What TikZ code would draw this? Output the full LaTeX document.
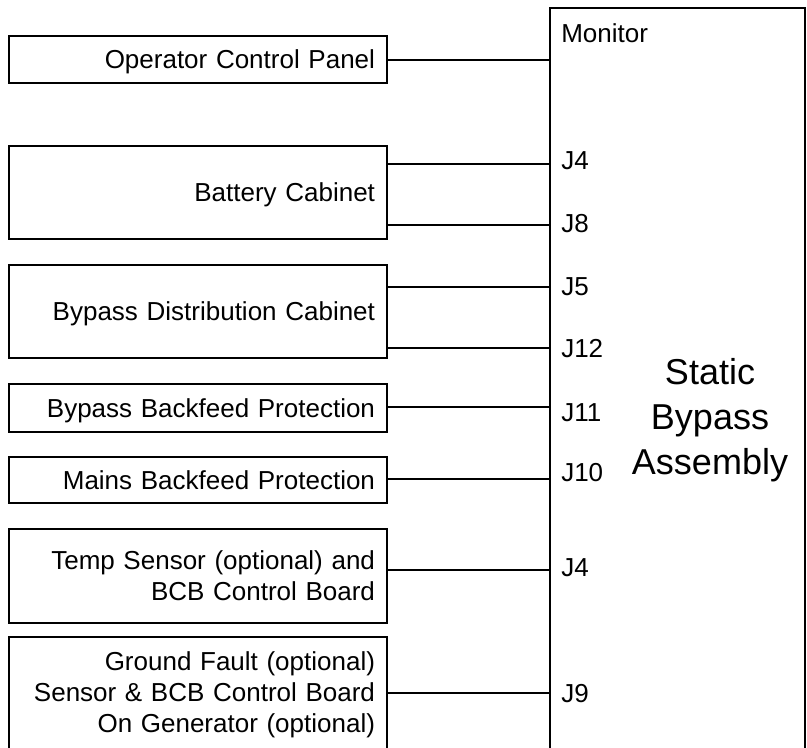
\documentclass[tikz,border=0pt]{standalone}
\usepackage{fontspec}
\setmainfont{Liberation Sans}
\begin{document}
\begin{tikzpicture}[x=0.75pt,y=-0.75pt,
  box/.style={draw, line width=2.2pt, minimum width=283.5pt, text width=265.5pt,
    inner xsep=9pt, inner ysep=0pt, align=right,
    font=\fontsize{19.5}{23.25}\selectfont},
  flat/.style={text depth=0pt},
  bigbox/.style={draw, line width=2.2pt, minimum width=191.25pt, minimum height=594pt, inner sep=0pt},
  lbl/.style={anchor=west, inner sep=0pt, font=\fontsize{19.5}{23.25}\selectfont},
  bigtext/.style={align=center, inner sep=0pt, font=\fontsize{27}{33.75}\selectfont},
  wire/.style={line width=2.2pt}]
\useasboundingbox (0,0) rectangle (807,748);
\clip (0,0) rectangle (807,748);
% big box
\node[bigbox] (sba) at (677.5,404) {};
\node[bigtext] (sbat) at (710,420) {Static\\Bypass\\Assembly};
\node[lbl] (mon) at (561,33) {Monitor};
% left boxes
\node[box, flat, minimum height=35.25pt] (ocp) at (198,59.5) {Operator Control Panel};
\node[box, flat, minimum height=69.75pt] (bat) at (198,192.5) {Battery Cabinet};
\node[box, flat, minimum height=69.75pt] (bdc) at (198,311.5) {Bypass Distribution Cabinet};
\node[box, flat, minimum height=36pt] (bbp) at (198,408) {Bypass Backfeed Protection};
\node[box, minimum height=34.5pt] (mbp) at (198,480) {Mains Backfeed Protection};
\node[box, minimum height=70.5pt] (tmp) at (198,576) {Temp Sensor (optional) and\\BCB Control Board};
\node[box, minimum height=86.25pt] (gf) at (198,694.5) {Ground Fault (optional)\\Sensor \& BCB Control Board\\On Generator (optional)};
% wire levels
\coordinate (w1) at (0,60);
\coordinate (w2) at (0,164);
\coordinate (w3) at (0,225);
\coordinate (w4) at (0,287);
\coordinate (w5) at (0,348);
\coordinate (w6) at (0,407);
\coordinate (w7) at (0,479);
\coordinate (w8) at (0,570);
\coordinate (w9) at (0,693);
\draw[wire] (ocp.east |- w1) -- (sba.west |- w1);
\draw[wire] (bat.east |- w2) -- (sba.west |- w2);
\draw[wire] (bat.east |- w3) -- (sba.west |- w3);
\draw[wire] (bdc.east |- w4) -- (sba.west |- w4);
\draw[wire] (bdc.east |- w5) -- (sba.west |- w5);
\draw[wire] (bbp.east |- w6) -- (sba.west |- w6);
\draw[wire] (mbp.east |- w7) -- (sba.west |- w7);
\draw[wire] (tmp.east |- w8) -- (sba.west |- w8);
\draw[wire] (gf.east |- w9) -- (sba.west |- w9);
% connector labels
\node[lbl] (j4a) at (561,161) {J4};
\node[lbl] (j8) at (561,224) {J8};
\node[lbl] (j5) at (561,287) {J5};
\node[lbl] (j12) at (561,349) {J12};
\node[lbl] (j11) at (561,413) {J11};
\node[lbl] (j10) at (561,473) {J10};
\node[lbl] (j4b) at (561,568) {J4};
\node[lbl] (j9) at (561,694) {J9};
\end{tikzpicture}
\end{document}
